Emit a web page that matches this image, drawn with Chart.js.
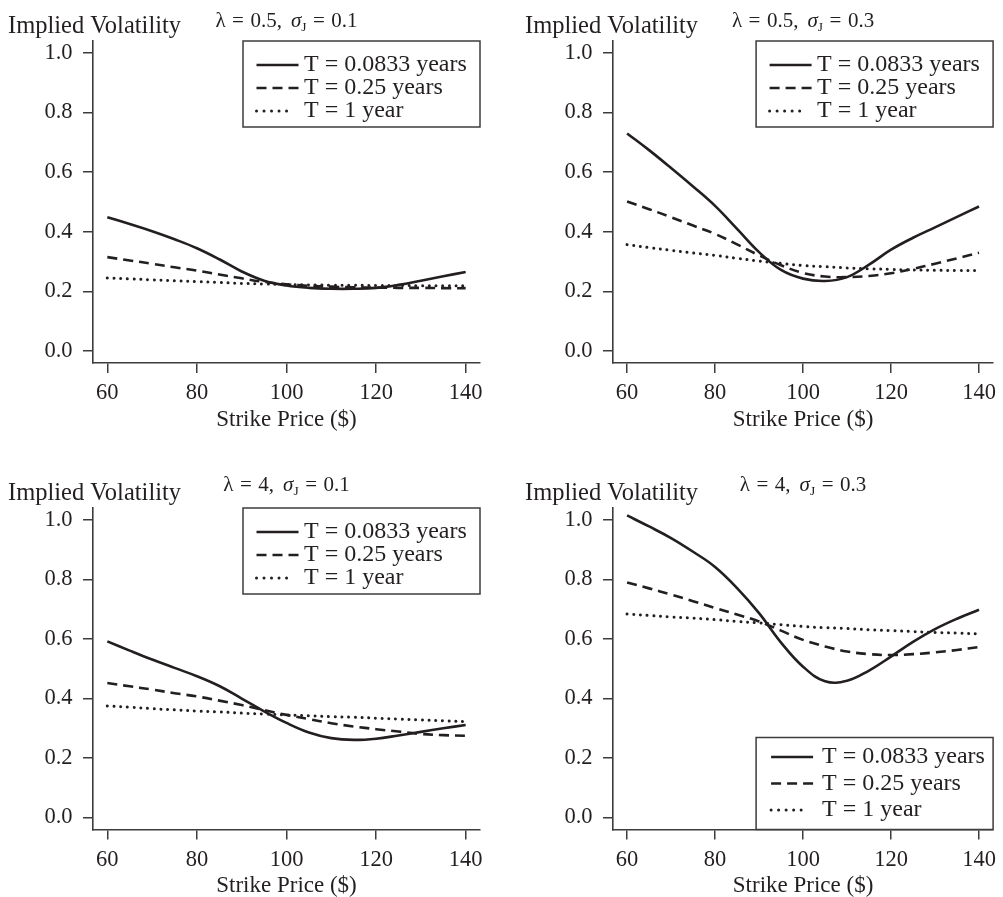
<!DOCTYPE html>
<html><head><meta charset="utf-8">
<script src="https://cdn.jsdelivr.net/npm/chart.js@4.4.1/dist/chart.umd.min.js"></script>
<style>
html,body{margin:0;padding:0;background:#fff;}
#wrap{position:relative;width:1003px;height:897px;overflow:hidden;}
canvas{position:absolute;}
</style></head><body>
<div id="wrap">
<canvas id="c1" width="500" height="440" style="left:0px;top:0px"></canvas>
<canvas id="c2" width="483" height="440" style="left:520px;top:0px"></canvas>
<canvas id="c3" width="500" height="430" style="left:0px;top:467px"></canvas>
<canvas id="c4" width="483" height="430" style="left:520px;top:467px"></canvas>
</div>
<script>
// ---- data ----
const strikes = [60,65,70,75,80,85,90,95,100,105,110,115,120,125,130,135,140];
const xTicks = [60,80,100,120,140];
const yTicks = [0,0.2,0.4,0.6,0.8,1.0];
const seriesLabels = ['T = 0.0833 years','T = 0.25 years','T = 1 year'];
const yAxisLabel = 'Implied Volatility';
const xAxisLabel = 'Strike Price ($)';
const panelLambda = ['0.5','0.5','4','4'];
const panelSigma = ['0.1','0.3','0.1','0.3'];

// panel 1: lambda 0.5, sigmaJ 0.1
const p1T0833 = [0.449,0.426,0.402,0.375,0.345,0.308,0.267,0.236,0.220,0.212,0.209,0.209,0.212,0.222,0.236,0.251,0.265];
const p1T025  = [0.315,0.304,0.293,0.281,0.270,0.257,0.244,0.232,0.224,0.219,0.216,0.214,0.213,0.212,0.212,0.211,0.211];
const p1T1    = [0.245,0.242,0.239,0.236,0.233,0.230,0.227,0.225,0.223,0.222,0.221,0.221,0.220,0.220,0.219,0.219,0.219];
// panel 2: lambda 0.5, sigmaJ 0.3
const p2T0833 = [0.730,0.674,0.614,0.552,0.487,0.410,0.332,0.272,0.243,0.235,0.248,0.290,0.340,0.380,0.415,0.450,0.485];
const p2T025  = [0.502,0.476,0.449,0.421,0.393,0.358,0.321,0.288,0.262,0.250,0.248,0.252,0.261,0.276,0.293,0.311,0.330];
const p2T1    = [0.357,0.347,0.338,0.329,0.321,0.311,0.302,0.294,0.287,0.283,0.279,0.276,0.274,0.272,0.271,0.270,0.270];
// panel 3: lambda 4, sigmaJ 0.1
const p3T0833 = [0.592,0.561,0.531,0.503,0.475,0.442,0.400,0.357,0.318,0.286,0.267,0.261,0.265,0.276,0.288,0.300,0.311];
const p3T025  = [0.452,0.441,0.430,0.418,0.407,0.393,0.378,0.361,0.345,0.331,0.317,0.306,0.297,0.289,0.281,0.277,0.275];
const p3T1    = [0.375,0.371,0.366,0.362,0.358,0.355,0.351,0.348,0.345,0.342,0.339,0.337,0.334,0.331,0.328,0.325,0.322];
// panel 4: lambda 4, sigmaJ 0.3
const p4T0833 = [1.015,0.978,0.939,0.893,0.842,0.771,0.687,0.588,0.507,0.458,0.460,0.494,0.541,0.590,0.633,0.668,0.698];
const p4T025  = [0.790,0.770,0.749,0.727,0.704,0.682,0.659,0.628,0.597,0.575,0.558,0.549,0.546,0.549,0.555,0.563,0.573];
const p4T1    = [0.684,0.679,0.674,0.670,0.665,0.659,0.654,0.648,0.642,0.638,0.635,0.631,0.628,0.625,0.622,0.620,0.617];

const panelSeries = [
  [p1T0833,p1T025,p1T1],
  [p2T0833,p2T025,p2T1],
  [p3T0833,p3T025,p3T1],
  [p4T0833,p4T025,p4T1]
];

// ---- styling ----
const FONT = '"Liberation Serif","Times New Roman",serif';
const INK = '#231f20';
const AXIS = '#3c3c3c';
const lineStyles = [
  {dash: [], width: 2.6, cap: 'butt', sampleLen: 42},
  {dash: [10, 6], width: 2.6, cap: 'butt', sampleLen: 42},
  {dash: [0.01, 7.5], width: 3, cap: 'round', sampleLen: 31}
];

const panelLayout = [
  {ivX: 8, titleBase: 27, legend: {anchor: 'top', h: 86, rows: [24, 47, 70], sx: 13.5, tx: 61}, xTitlePad: 9},
  {ivX: 5, titleBase: 27, legend: {anchor: 'top', h: 86, rows: [24, 47, 70], sx: 13.5, tx: 61}, xTitlePad: 9},
  {ivX: 8, titleBase: 24, legend: {anchor: 'top', h: 86, rows: [24, 47, 70], sx: 13.5, tx: 61}, xTitlePad: 0},
  {ivX: 5, titleBase: 24, legend: {anchor: 'bottom', h: 92, rows: [19.5, 46, 72.5], sx: 15, tx: 66}, xTitlePad: 0}
];

function decoPlugin(idx) {
  const L = panelLayout[idx];
  return {
    id: 'deco' + idx,
    afterDraw(chart) {
      const ctx = chart.ctx;
      const ca = chart.chartArea;
      ctx.save();
      ctx.fillStyle = INK;
      // y-axis label (horizontal, top-left)
      ctx.font = '24.5px ' + FONT;
      ctx.textAlign = 'left';
      ctx.textBaseline = 'alphabetic';
      ctx.fillText(yAxisLabel, L.ivX, 33);
      // panel title: λ = .., σJ = ..
      const base = '21px ' + FONT;
      const ital = 'italic 21px ' + FONT;
      const sub = '13.5px ' + FONT;
      const gap = 6.5;
      const toks = [
        {t: 'λ', f: base}, {g: gap}, {t: '=', f: base}, {g: gap},
        {t: panelLambda[idx] + ',', f: base}, {g: 9},
        {t: 'σ', f: ital}, {t: 'J', f: sub, dy: 4}, {g: gap},
        {t: '=', f: base}, {g: gap}, {t: panelSigma[idx], f: base}
      ];
      let w = 0;
      toks.forEach(k => { if (k.g) w += k.g; else { ctx.font = k.f; k.w = ctx.measureText(k.t).width; w += k.w; } });
      let x = (ca.left + ca.right) / 2 - w / 2;
      toks.forEach(k => {
        if (k.g) { x += k.g; return; }
        ctx.font = k.f;
        ctx.fillText(k.t, x, L.titleBase + (k.dy || 0));
        x += k.w;
      });
      // legend box
      const lg = L.legend;
      const bw = 237;
      const bx = ca.right - bw;
      const by = lg.anchor === 'top' ? ca.top : ca.bottom - lg.h;
      ctx.fillStyle = '#fff';
      ctx.fillRect(bx, by, bw, lg.h);
      ctx.strokeStyle = AXIS;
      ctx.lineWidth = 1.5;
      ctx.strokeRect(bx, by, bw, lg.h);
      chart.data.datasets.forEach((ds, i) => {
        const ry = by + lg.rows[i];
        const st = lineStyles[i];
        ctx.beginPath();
        ctx.setLineDash(st.dash);
        ctx.lineCap = st.cap;
        ctx.lineWidth = st.width;
        ctx.strokeStyle = INK;
        ctx.moveTo(bx + lg.sx, ry);
        ctx.lineTo(bx + lg.sx + st.sampleLen, ry);
        ctx.stroke();
        ctx.setLineDash([]);
        ctx.fillStyle = INK;
        ctx.font = '24px ' + FONT;
        ctx.textBaseline = 'middle';
        ctx.textAlign = 'left';
        ctx.fillText(ds.label, bx + lg.tx, ry);
      });
      ctx.restore();
    }
  };
}

function makeChart(idx) {
  const L = panelLayout[idx];
  const datasets = panelSeries[idx].map((vals, i) => ({
    label: seriesLabels[i],
    data: strikes.map((k, j) => ({x: k, y: vals[j]})),
    borderColor: INK,
    borderWidth: lineStyles[i].width,
    borderDash: i === 2 ? [0.01, 6.7] : lineStyles[i].dash,
    borderCapStyle: lineStyles[i].cap,
    pointRadius: 0,
    fill: false,
    tension: 0.4
  }));
  return new Chart(document.getElementById('c' + (idx + 1)), {
    type: 'line',
    data: {datasets},
    options: {
      responsive: false,
      animation: false,
      devicePixelRatio: 1,
      layout: {padding: {top: 41, right: idx % 2 === 0 ? 20 : 3, left: 0, bottom: 0}},
      plugins: {legend: {display: false}, tooltip: {enabled: false}, title: {display: false}},
      scales: {
        x: {
          type: 'linear', min: 56.8, max: 143.2,
          afterBuildTicks: s => { s.ticks = xTicks.map(v => ({value: v})); },
          afterFit: s => { s.height = (idx < 2 ? 440 : 430) - (idx < 2 ? 363 : 362.5); },
          grid: {display: true, drawOnChartArea: false, drawTicks: true, tickLength: 10, color: AXIS, lineWidth: 1.5},
          border: {display: true, color: AXIS, width: 1.6},
          ticks: {color: INK, font: {family: FONT, size: 22.5}, padding: 7, maxRotation: 0, callback: v => String(v)},
          title: {display: true, text: xAxisLabel, color: INK, font: {family: FONT, size: 23, lineHeight: 1}, padding: {top: 0, bottom: L.xTitlePad}}
        },
        y: {
          type: 'linear', min: -0.04, max: 1.04,
          afterBuildTicks: s => { s.ticks = yTicks.map(v => ({value: v})); },
          afterFit: s => { s.width = 93; },
          grid: {display: true, drawOnChartArea: false, drawTicks: true, tickLength: 10, color: AXIS, lineWidth: 1.5},
          border: {display: true, color: AXIS, width: 1.6},
          ticks: {color: INK, font: {family: FONT, size: 22.5}, padding: 10.5, callback: v => v.toFixed(1)}
        }
      }
    },
    plugins: [decoPlugin(idx)]
  });
}
[0,1,2,3].forEach(makeChart);
</script>
</body></html>
